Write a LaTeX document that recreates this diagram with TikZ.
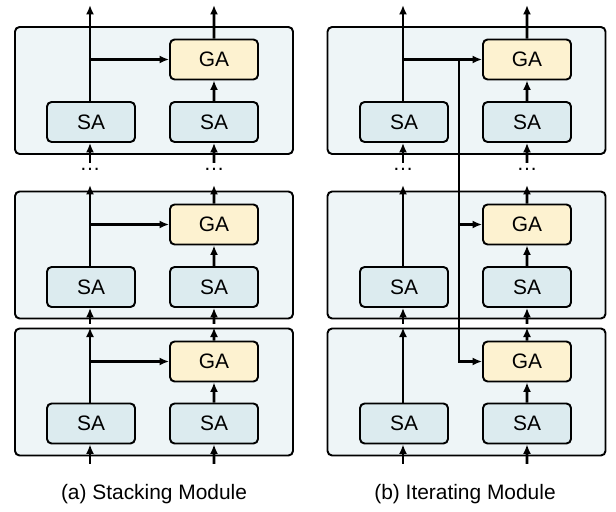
\documentclass[tikz,border=0pt]{standalone}
\usepackage{fontspec}
\setmainfont{Liberation Sans}
\usepackage{tikz}
\usetikzlibrary{arrows.meta,positioning}
\definecolor{layerfill}{RGB}{238,245,247}
\definecolor{safill}{RGB}{220,235,239}
\definecolor{gafill}{RGB}{253,242,208}
\begin{document}
\begin{tikzpicture}[scale=0.2]
\fontsize{11.9}{14}\selectfont
\tikzstyle{every node}+=[inner sep=0pt]
\tikzstyle{layer}=[draw=black,line width=1.1pt,fill=layerfill,rounded corners=2.6pt,minimum width=5.56cm,minimum height=2.54cm]
\tikzstyle{sabox}=[draw=black,line width=1.1pt,fill=safill,rounded corners=2.6pt,minimum width=1.76cm,minimum height=0.8cm]
\tikzstyle{gabox}=[sabox,fill=gafill]
\tikzstyle{flow}=[black,line width=1.5pt,-{Latex[length=5.4pt,width=4.6pt]}]
\useasboundingbox (0,0) rectangle (61.6,-51.2);
\node [layer] (la3) at (15.4,-9.05) {};
\node [layer] (la2) at (15.4,-25.5) {};
\node [layer] (la1) at (15.4,-39.2) {};
\node [layer] (lb3) at (46.65,-9.05) {};
\node [layer] (lb2) at (46.65,-25.5) {};
\node [layer] (lb1) at (46.65,-39.2) {};
\node [sabox] (sa3l) at (9.1,-12.2) {SA};
\node [sabox] (sa3r) at (21.4,-12.2) {SA};
\node [gabox] (ga3) at (21.4,-5.95) {GA};
\node [sabox] (sa2l) at (9.1,-28.7) {SA};
\node [sabox] (sa2r) at (21.4,-28.7) {SA};
\node [gabox] (ga2) at (21.4,-22.45) {GA};
\node [sabox] (sa1l) at (9.1,-42.35) {SA};
\node [sabox] (sa1r) at (21.4,-42.35) {SA};
\node [gabox] (ga1) at (21.4,-36.15) {GA};
\node [sabox] (sb3l) at (40.4,-12.2) {SA};
\node [sabox] (sb3r) at (52.7,-12.2) {SA};
\node [gabox] (gb3) at (52.7,-5.95) {GA};
\node [sabox] (sb2l) at (40.4,-28.7) {SA};
\node [sabox] (sb2r) at (52.7,-28.7) {SA};
\node [gabox] (gb2) at (52.7,-22.45) {GA};
\node [sabox] (sb1l) at (40.4,-42.35) {SA};
\node [sabox] (sb1r) at (52.7,-42.35) {SA};
\node [gabox] (gb1) at (52.7,-36.15) {GA};
\node (dotal) at (9.0,-16.9) {\dots};
\node (dotar) at (21.4,-16.9) {\dots};
\node (dotbl) at (40.3,-16.9) {\dots};
\node (dotbr) at (52.7,-16.9) {\dots};
\node (capa) at (15.4,-49.4) {(a) Stacking Module};
\node (capb) at (46.5,-49.4) {(b) Iterating Module};
\coordinate (outal) at (9.0,-0.5);
\coordinate (outar) at (21.4,-0.5);
\coordinate (outbl) at (40.3,-0.5);
\coordinate (outbr) at (52.7,-0.5);
\coordinate (inal) at (9.0,-16.3);
\coordinate (inar) at (21.4,-16.3);
\coordinate (inbl) at (40.3,-16.3);
\coordinate (inbr) at (52.7,-16.3);
\coordinate (midal) at (9.0,-18.5);
\coordinate (midar) at (21.4,-18.5);
\coordinate (midbl) at (40.3,-18.5);
\coordinate (midbr) at (52.7,-18.5);
\coordinate (lowal) at (9.0,-32.4);
\coordinate (lowar) at (21.4,-32.4);
\coordinate (lowbl) at (40.3,-32.4);
\coordinate (lowbr) at (52.7,-32.4);
\coordinate (botal) at (9.0,-46.4);
\coordinate (botar) at (21.4,-46.4);
\coordinate (botbl) at (40.3,-46.4);
\coordinate (botbr) at (52.7,-46.4);
\coordinate (jb) at (45.9,-5.95);
\draw [flow] (sa3l.north -| outal) -- (outal);
\draw [flow] (ga3) -- (outar);
\draw [flow] (sa3r) -- (ga3);
\draw [flow] (sa3l.north -| outal) |- (ga3.west);
\draw [flow] (inal) -- (sa3l.south -| inal);
\draw [flow] (inar) -- (sa3r);
\draw [flow] (sa2l.north -| midal) -- (midal);
\draw [flow] (ga2) -- (midar);
\draw [flow] (sa2r) -- (ga2);
\draw [flow] (sa2l.north -| midal) |- (ga2.west);
\draw [flow] (lowal) -- (sa2l.south -| lowal);
\draw [flow] (lowar) -- (sa2r);
\draw [flow] (sa1l.north -| lowal) -- (la1.north -| lowal);
\draw [flow] (ga1) -- (la1.north -| lowar);
\draw [flow] (sa1r) -- (ga1);
\draw [flow] (sa1l.north -| lowal) |- (ga1.west);
\draw [flow] (botal) -- (sa1l.south -| botal);
\draw [flow] (botar) -- (sa1r);
\draw [flow] (sb3l.north -| outbl) -- (outbl);
\draw [flow] (gb3) -- (outbr);
\draw [flow] (sb3r) -- (gb3);
\draw [flow] (sb3l.north -| outbl) |- (gb3.west);
\draw [flow] (inbl) -- (sb3l.south -| inbl);
\draw [flow] (inbr) -- (sb3r);
\draw [flow] (sb2l.north -| midbl) -- (midbl);
\draw [flow] (gb2) -- (midbr);
\draw [flow] (sb2r) -- (gb2);
\draw [flow] (lowbl) -- (sb2l.south -| lowbl);
\draw [flow] (lowbr) -- (sb2r);
\draw [flow] (sb1l.north -| lowbl) -- (lb1.north -| lowbl);
\draw [flow] (gb1) -- (lb1.north -| lowbr);
\draw [flow] (sb1r) -- (gb1);
\draw [flow] (botbl) -- (sb1l.south -| botbl);
\draw [flow] (botbr) -- (sb1r);
\draw [flow] (jb) |- (gb2.west);
\draw [flow] (jb) |- (gb1.west);
\end{tikzpicture}
\end{document}
